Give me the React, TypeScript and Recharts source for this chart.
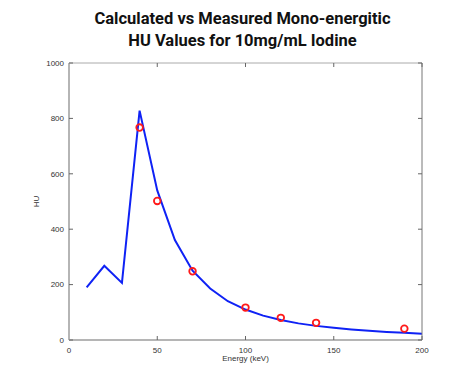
import React from 'react';
import { ComposedChart, Line, Scatter, XAxis, YAxis } from 'recharts';

// calculated curve (keV -> HU)
const calcEnergy = [10, 20, 30, 40, 50, 60, 70, 80, 90, 100, 110, 120, 130, 140, 150, 160, 170, 180, 190, 200];
const calcHU = [190, 268, 206, 828, 540, 361, 250, 186, 140, 110, 88, 72, 60, 51, 44, 38, 33, 29, 26, 23];

// measured points
const measEnergy = [40, 50, 70, 100, 120, 140, 190];
const measHU = [767, 502, 248, 117, 80, 62, 41];

const xTicks = [0, 50, 100, 150, 200];
const yTicks = [0, 200, 400, 600, 800, 1000];

const calcData = calcEnergy.map((e, i) => ({ energy: e, hu: calcHU[i] }));
const measData = measEnergy.map((e, i) => ({ energy: e, hu: measHU[i] }));

const tickFont = { fontSize: 8, fill: '#333', fontFamily: 'Liberation Sans, Arial, sans-serif' };

const RingDot = (props: any) => {
    const { cx, cy } = props;
    return <circle cx={cx} cy={cy} r={3.3} fill="none" stroke="#ff1a1a" strokeWidth={1.8} />;
};

const App = () => {
    return (
        <div style={{ position: 'absolute', left: 0, top: 0, width: 469, height: 386, background: '#fff' }}>
            <div
                style={{
                    position: 'absolute',
                    left: 16,
                    width: 453,
                    top: 8,
                    textAlign: 'center',
                    fontFamily: 'Roboto, sans-serif',
                    fontWeight: 700,
                    fontSize: 16.5,
                    lineHeight: '22px',
                    color: '#111',
                }}
            >
                Calculated vs Measured Mono-energitic
                <br />
                HU Values for 10mg/mL Iodine
            </div>
            <ComposedChart width={469} height={386} margin={{ top: 62, right: 46, left: 0, bottom: 0 }}>
                <XAxis
                    dataKey="energy"
                    type="number"
                    domain={[0, 200]}
                    ticks={xTicks}
                    height={46}
                    tickSize={-4}
                    tickMargin={11}
                    tick={tickFont}
                    tickLine={{ stroke: '#666' }}
                    axisLine={{ stroke: '#b5b5b5', strokeWidth: 2 }}
                    label={{ value: 'Energy (keV)', position: 'insideBottom', offset: 25, style: tickFont }}
                />
                <XAxis
                    xAxisId="top"
                    orientation="top"
                    dataKey="energy"
                    type="number"
                    domain={[0, 200]}
                    ticks={xTicks}
                    height={1}
                    tickSize={-4}
                    tickFormatter={() => ''}
                    tickLine={{ stroke: '#666' }}
                    axisLine={{ stroke: '#aaa' }}
                />
                <YAxis
                    dataKey="hu"
                    type="number"
                    domain={[0, 1000]}
                    ticks={yTicks}
                    width={69}
                    tickSize={-4}
                    tickMargin={9}
                    tick={tickFont}
                    tickLine={{ stroke: '#666' }}
                    axisLine={{ stroke: '#b5b5b5', strokeWidth: 2 }}
                    label={{ value: 'HU', angle: -90, position: 'center', dx: 2, style: tickFont }}
                />
                <YAxis
                    yAxisId="right"
                    orientation="right"
                    dataKey="hu"
                    type="number"
                    domain={[0, 1000]}
                    ticks={yTicks}
                    width={1}
                    tickSize={-4}
                    tickFormatter={() => ''}
                    tickLine={{ stroke: '#666' }}
                    axisLine={{ stroke: '#777' }}
                />
                {/* invisible series so the top/right frame axes get drawn */}
                <Line
                    data={calcData}
                    xAxisId="top"
                    yAxisId="right"
                    dataKey="hu"
                    stroke="none"
                    dot={false}
                    activeDot={false}
                    isAnimationActive={false}
                />
                <Line
                    data={calcData}
                    dataKey="hu"
                    type="linear"
                    stroke="#0f22f5"
                    strokeWidth={2}
                    dot={false}
                    isAnimationActive={false}
                />
                <Scatter data={measData} dataKey="hu" shape={<RingDot />} isAnimationActive={false} />
            </ComposedChart>
        </div>
    );
};

export default App;
